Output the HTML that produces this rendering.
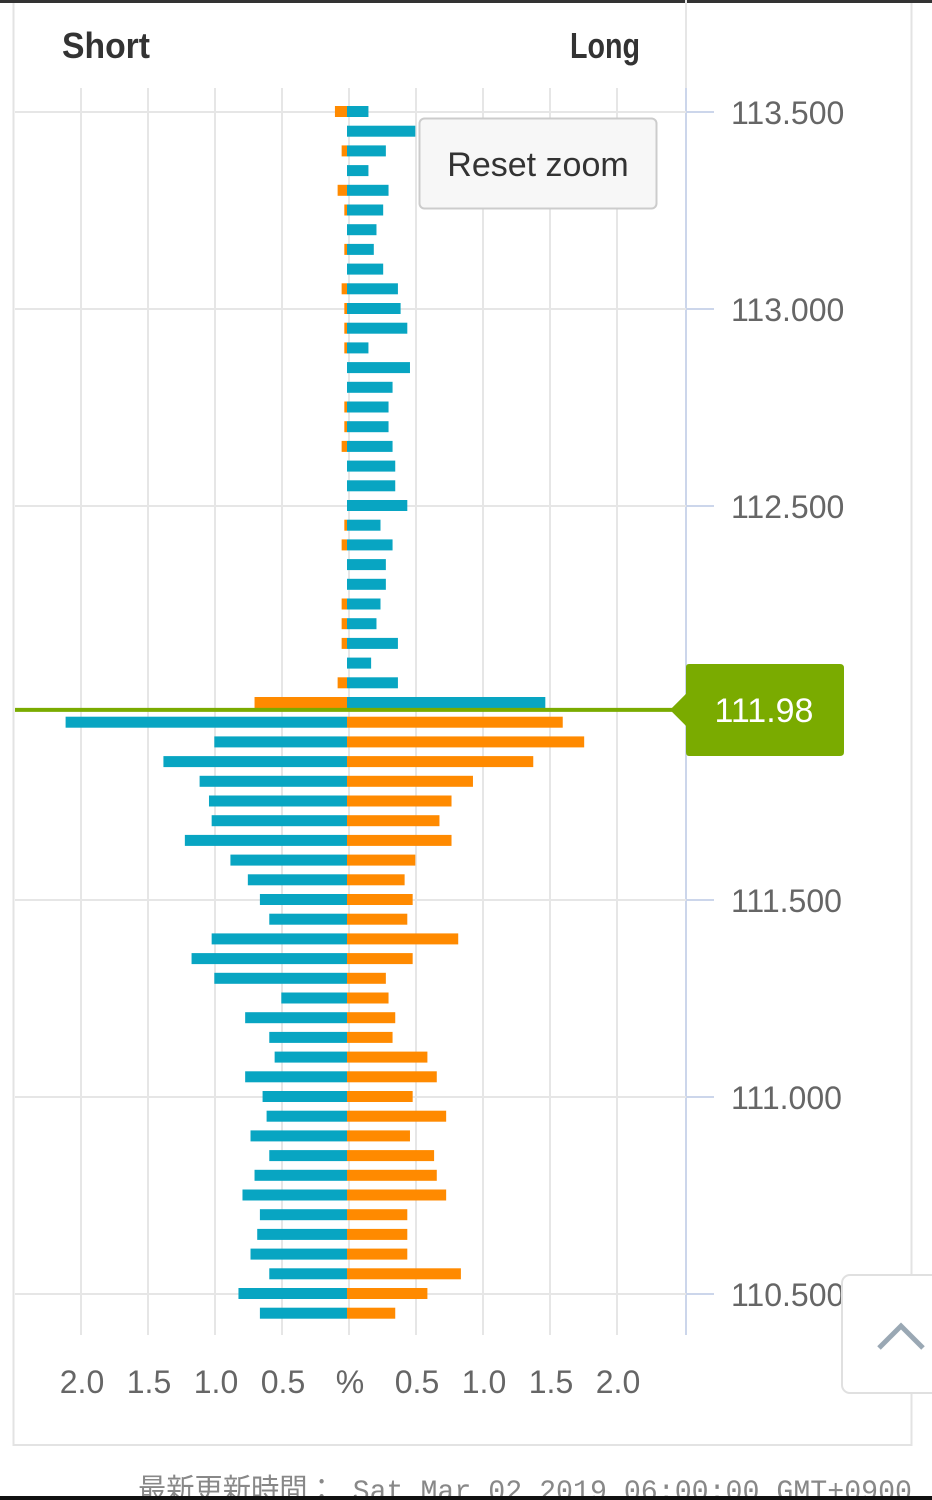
<!DOCTYPE html>
<html><head><meta charset="utf-8">
<style>
html,body{margin:0;padding:0;background:#fff;width:932px;height:1500px;overflow:hidden;font-family:"Liberation Sans","Noto Sans CJK JP",sans-serif}
#wrap{position:relative;width:932px;height:1500px}
svg{position:absolute;left:0;top:0}
</style></head>
<body><div id="wrap">
<svg id="chart" width="932" height="1500"></svg>
</div>
<script>
// price levels from 113.50 down to 110.45 (step 0.05)
const topPrice = 113.50;
const priceStep = 0.05;
const currentPrice = 111.98;
// % values per row, top to bottom
const longPct = [0.16,0.51,0.29,0.16,0.31,0.27,0.22,0.20,0.27,0.38,0.40,0.45,0.16,0.47,0.34,0.31,0.31,0.34,0.36,0.36,0.45,0.25,0.34,0.29,0.29,0.25,0.22,0.38,0.18,0.38,1.48,
1.61,1.77,1.39,0.94,0.78,0.69,0.78,0.51,0.43,0.49,0.45,0.83,0.49,0.29,0.31,0.36,0.34,0.60,0.67,0.49,0.74,0.47,0.65,0.67,0.74,0.45,0.45,0.45,0.85,0.60,0.36];
const shortPct = [0.09,0,0.04,0,0.07,0.02,0,0.02,0,0.04,0.02,0.02,0.02,0,0,0.02,0.02,0.04,0,0,0,0.02,0.04,0,0,0.04,0.04,0.04,0,0.07,0.69,
2.10,0.99,1.37,1.10,1.03,1.01,1.21,0.87,0.74,0.65,0.58,1.01,1.16,0.99,0.49,0.76,0.58,0.54,0.76,0.63,0.60,0.72,0.58,0.69,0.78,0.65,0.67,0.72,0.58,0.81,0.65];
const xTickLabels = ["2.0","1.5","1.0","0.5","%","0.5","1.0","1.5","2.0"];
const xTickValues = [-2,-1.5,-1,-0.5,0,0.5,1,1.5,2];
const yTickValues = [113.5,113.0,112.5,111.5,111.0,110.5];
const yTickLabels = ["113.500","113.000","112.500","111.500","111.000","110.500"];

const NS="http://www.w3.org/2000/svg";
const svg=document.getElementById('chart');
const X0=347, PXPCT=134;
const Y0=112, PXPRICE=394;
const xS=v=>X0+v*PXPCT;
const yS=p=>Y0+(topPrice-p)*PXPRICE;
function el(tag,attrs,parent){const e=document.createElementNS(NS,tag);for(const k in attrs)e.setAttribute(k,attrs[k]);(parent||svg).appendChild(e);return e;}

// frame
let f=el('rect',{x:13.5,y:-2,width:898,height:1447,fill:'#fff',stroke:'#e3e3e3','stroke-width':2});


let tb=el('rect',{x:0,y:0,width:932,height:3,fill:'#333'});



// vertical grid
xTickValues.forEach((v,i)=>{
  const g=el('line',{x1:xS(v)+2,x2:xS(v)+2,y1:88,y2:1335,stroke:'#e6e6e6','stroke-width':2});
  
  
  const t=el('text',{x:xS(v)+3,y:1393,'text-anchor':'middle','font-size':32,fill:'#666'});
  t.textContent=xTickLabels[i];
  
  
});
// right axis
let ax=el('line',{x1:686,x2:686,y1:0,y2:1335,stroke:'#e6e6e6','stroke-width':2});


let ax2=el('line',{x1:686,x2:686,y1:88,y2:1335,stroke:'#ccd6eb','stroke-width':2});


yTickValues.forEach((p,i)=>{
  const y=yS(p);
  const g=el('line',{x1:15,x2:686,y1:y,y2:y,stroke:'#e6e6e6','stroke-width':2});
  
  
  const tk=el('line',{x1:686,x2:714,y1:y,y2:y,stroke:'#ccd6eb','stroke-width':2});
  
  
  const t=el('text',{x:731,y:y+12,'font-size':32,fill:'#666'});
  t.textContent=yTickLabels[i];
  
  
});

// bars
const TEAL='#08a5c2', ORANGE='#ff8a00';
longPct.forEach((lv,i)=>{
  const price=topPrice-i*priceStep;
  const y=yS(price)-6;
  const above=price>=currentPrice;
  const sv=shortPct[i];
  if(sv>0){
    const b=el('rect',{x:xS(-sv),y:y,width:sv*PXPCT,height:11,fill:above?ORANGE:TEAL});
    
    
  }
  if(lv>0){
    const b=el('rect',{x:X0,y:y,width:lv*PXPCT,height:11,fill:above?TEAL:ORANGE});
    
    
  }
});

// current price line
const cy=yS(currentPrice)-1;
let pl=el('line',{x1:15,x2:686,y1:cy,y2:cy,stroke:'#7aab00','stroke-width':4});


let pb=el('path',{d:`M670 ${cy} L686 ${cy-16} L686 667 Q686 664 689 664 L840 664 Q844 664 844 668 L844 752 Q844 756 840 756 L689 756 Q686 756 686 752 L686 ${cy+16} Z`,fill:'#7aab00'});


let pt=el('text',{x:764,y:cy+12,'text-anchor':'middle','font-size':34,fill:'#fff'});
pt.textContent=currentPrice.toFixed(2);



// headers
let hs=el('text',{x:62,y:58,'font-size':36,'font-weight':'bold',fill:'#333',textLength:88,lengthAdjust:'spacingAndGlyphs'});
hs.textContent='Short';


let hl=el('text',{x:570,y:58,'font-size':36,'font-weight':'bold',fill:'#333',textLength:70,lengthAdjust:'spacingAndGlyphs'});
hl.textContent='Long';



// reset zoom button
let rz=el('rect',{x:419.5,y:118.5,width:237,height:90,rx:5,fill:'#f7f7f7',stroke:'#cccccc','stroke-width':2});


let rzt=el('text',{x:538,y:176,'text-anchor':'middle','font-size':34,fill:'#333'});
rzt.textContent='Reset zoom';



// scroll to top
let st=el('rect',{x:842,y:1275,width:100,height:118,rx:8,fill:'#fff',stroke:'#e0e0e0','stroke-width':2});


let sc=el('path',{d:'M879 1348 L901 1326 L923 1348',fill:'none',stroke:'#9aa8b4','stroke-width':5});



// footer
let ft=el('text',{x:138,y:1500,'font-size':30,fill:'#888','font-family':'"Liberation Mono","Noto Sans CJK JP",monospace',textLength:774,lengthAdjust:'spacingAndGlyphs'});
ft.textContent='最新更新時間： Sat Mar 02 2019 06:00:00 GMT+0900';


let bb=el('rect',{x:0,y:1496,width:932,height:4,fill:'#111'});


</script>
</body></html>
